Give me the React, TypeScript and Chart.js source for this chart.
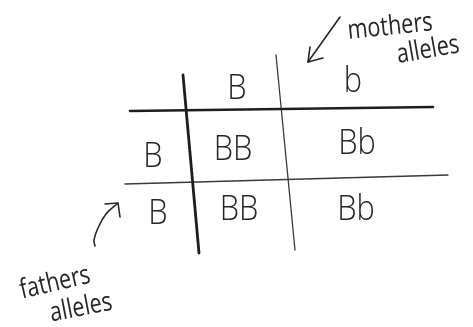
import React, { useEffect, useRef } from "react";
import { Chart, registerables } from "chart.js";

Chart.register(...registerables);

// Punnett square: column (mother) alleles, row (father) alleles, offspring genotypes
const motherAlleles = ["B", "b"];
const fatherAlleles = ["B", "B"];
const offspring = [
  ["BB", "Bb"],
  ["BB", "Bb"],
];

// Positions in the sketch's own coordinate space (x: 0..473, y: 0..327 top-down)
const colHeaderPos = [
  [237, 89],
  [353, 82],
];
const rowHeaderPos = [
  [153, 157],
  [158, 214],
];
const cellPos = [
  [
    [233, 150],
    [357, 144],
  ],
  [
    [239, 210],
    [356, 210],
  ],
];

// Grid strokes
const topRule = [
  [130, 111],
  [433, 107],
];
const middleRule = [
  [125, 184],
  [448, 175],
];
const leftRule = [
  [183, 75],
  [199, 253],
];
const midRule = [
  [276, 55],
  [295, 250],
];

// Annotations
const annotationTexts = ["mothers", "alleles", "fathers", "alleles"];
const annotationPos = [
  [390, 27],
  [428, 50],
  [55, 283],
  [81, 308],
];
const annotationAngles = [-6, -10, -13, -11];

const motherArrow = [
  [340, 17],
  [308, 62],
];
const motherArrowHead = [
  [310, 47],
  [308, 62],
  [323, 58],
];
const fatherArrow = [
  [95, 246],
  [94, 240],
  [98, 228],
  [106, 214],
  [118, 203],
];
const fatherArrowHead = [
  [105, 204],
  [118, 203],
  [120, 217],
];

const pts = (a: number[][]) => a.map(([x, y]) => ({ x, y }));

export default function App() {
  const ref = useRef<HTMLCanvasElement | null>(null);

  useEffect(() => {
    document.body.style.margin = "0";
    const canvas = ref.current;
    if (!canvas) return;

    const ink = "#262626";
    const lineDs = (data: number[][], width: number, color = ink, tension = 0) => ({
      data: pts(data),
      showLine: true,
      borderColor: color,
      borderWidth: width,
      pointRadius: 0,
      tension,
      fill: false,
      borderCapStyle: "round" as const,
      borderJoinStyle: "round" as const,
    });

    const textPlugin = {
      id: "sketchText",
      afterDatasetsDraw(chart: any) {
        const { ctx, scales } = chart;
        const px = (x: number) => scales.x.getPixelForValue(x);
        const py = (y: number) => scales.y.getPixelForValue(y);
        const draw = (
          t: string,
          x: number,
          y: number,
          size: number,
          angle: number,
          sx: number,
          weight: string
        ) => {
          ctx.save();
          ctx.translate(px(x), py(y));
          ctx.rotate((angle * Math.PI) / 180);
          ctx.scale(sx, 1);
          ctx.font = `${weight} ${size}px "Open Sans", "DejaVu Sans", sans-serif`;
          ctx.fillStyle = ink;
          ctx.textAlign = "center";
          ctx.textBaseline = "middle";
          ctx.fillText(t, 0, 0);
          ctx.restore();
        };
        motherAlleles.forEach((a, i) => draw(a, colHeaderPos[i][0], colHeaderPos[i][1], 35, 0, 0.88, "300"));
        fatherAlleles.forEach((a, i) => draw(a, rowHeaderPos[i][0], rowHeaderPos[i][1], 35, 0, 0.88, "300"));
        offspring.forEach((row, r) =>
          row.forEach((g, c) => draw(g, cellPos[r][c][0], cellPos[r][c][1], 35, 0, 0.88, "300"))
        );
        annotationTexts.forEach((t, i) =>
          draw(t, annotationPos[i][0], annotationPos[i][1], 27, annotationAngles[i], 0.8, "400")
        );
      },
    };

    const chart = new Chart(canvas, {
      type: "scatter",
      data: {
        datasets: [
          lineDs(topRule, 2.6, "#1e1e1e"),
          lineDs(leftRule, 2.8, "#1e1e1e"),
          lineDs(middleRule, 1.3, "#3a3a3a"),
          lineDs(midRule, 1.3, "#3a3a3a"),
          lineDs(motherArrow, 1.6),
          lineDs(motherArrowHead, 1.6),
          lineDs(fatherArrow, 1.6, ink, 0.4),
          lineDs(fatherArrowHead, 1.6),
        ] as any,
      },
      options: {
        responsive: false,
        animation: false,
        events: [],
        layout: { padding: 0 },
        plugins: { legend: { display: false }, tooltip: { enabled: false } },
        scales: {
          x: { type: "linear", min: 0, max: 473, display: false },
          y: { type: "linear", min: 0, max: 327, reverse: true, display: false },
        },
      },
      plugins: [textPlugin],
    });

    return () => chart.destroy();
  }, []);

  return (
    <div style={{ position: "absolute", left: 0, top: 0, width: 473, height: 327, background: "#fff" }}>
      <canvas ref={ref} width={473} height={327} />
    </div>
  );
}
